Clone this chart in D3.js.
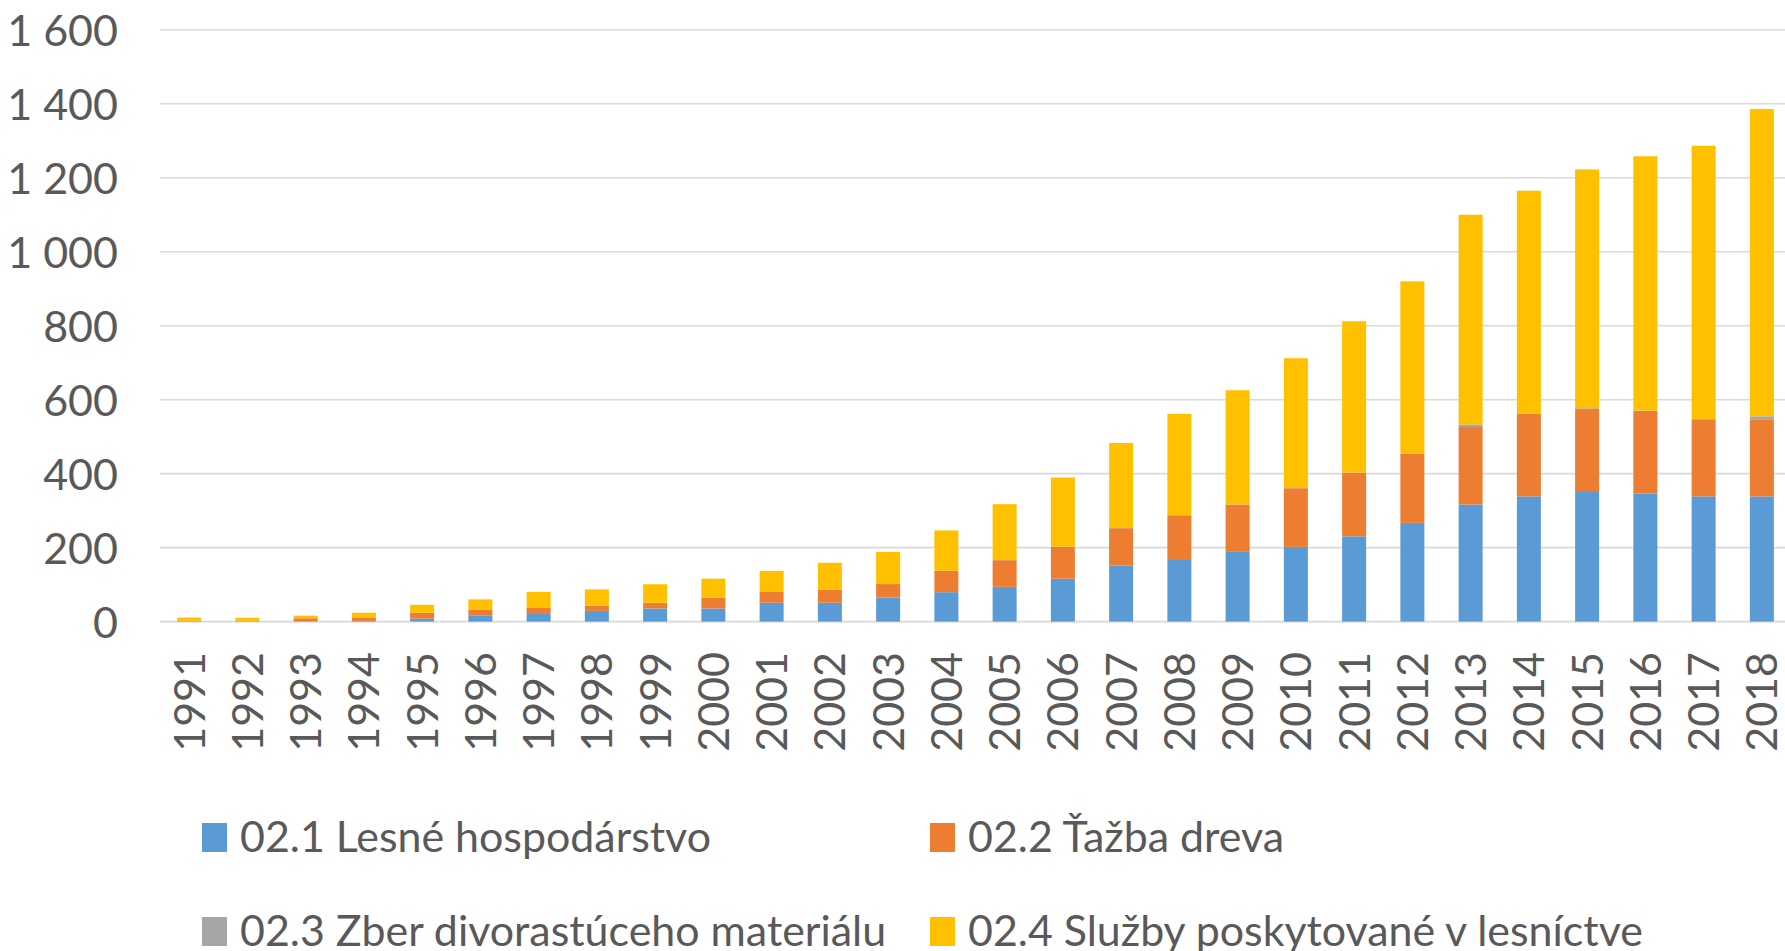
<!DOCTYPE html>
<html lang="sk">
<head>
    <meta charset="UTF-8">
    <title>Lesníctvo</title>
    <script src="https://cdn.jsdelivr.net/npm/d3@7"></script>
    <style>
        body { margin: 0; background: #fff; }
        text { font-family: Lato, "Open Sans", sans-serif; fill: #595959; }
    </style>
</head>
<body>
<div id="chart"></div>

<script>
    // roky (kategórie)
    var years = ["1991", "1992", "1993", "1994", "1995", "1996", "1997", "1998", "1999", "2000",
        "2001", "2002", "2003", "2004", "2005", "2006", "2007", "2008", "2009", "2010",
        "2011", "2012", "2013", "2014", "2015", "2016", "2017", "2018"];

    // 02.1 Lesné hospodárstvo
    var lesne = [0.5, 0.5, 1, 2, 8, 17, 23, 29, 35.5, 35.5,
        51, 51, 65, 79.5, 94, 116, 152, 166.5, 188.5, 202,
        230.5, 267, 316.5, 338.5, 353, 346.5, 338.5, 338.5];

    // 02.2 Ťažba dreva
    var tazba = [1.5, 1.5, 8, 8, 16, 14.5, 15.5, 14, 15.5, 29,
        29, 35.5, 36.5, 57.5, 72, 86, 100.5, 121, 128, 158.5,
        172, 187.5, 209.5, 223, 223, 223, 208.5, 208.5];

    // 02.3 Zber divorastúceho materiálu
    var zber = [0, 0, 0, 0, 0, 0, 0, 0, 0, 0,
        0, 0, 0, 0.5, 0.5, 0.5, 0.5, 0.5, 0.5, 0.5,
        0.5, 0.5, 6.5, 1, 1, 1, 1, 8];

    // 02.4 Služby poskytované v lesníctve
    var sluzby = [9, 8.5, 7, 14, 21.5, 28.5, 42, 44, 50, 51.5,
        57, 72.5, 87, 109, 151, 187, 230, 273.5, 308.5, 351,
        409, 465, 567.5, 602.5, 645.5, 687.5, 738.5, 831];

    var seriesNames = ["02.1 Lesné hospodárstvo", "02.2 Ťažba dreva",
        "02.3 Zber divorastúceho materiálu", "02.4 Služby poskytované v lesníctve"];
    var colors = ["#5B9BD5", "#ED7D31", "#A5A5A5", "#FFC000"];
    var yTicks = [0, 200, 400, 600, 800, 1000, 1200, 1400, 1600];

    var width = 1785, height = 951;

    // tabuľka pre d3.stack
    var keys = ["lesne", "tazba", "zber", "sluzby"];
    var table = years.map(function(y, i) {
        return {year: y, lesne: lesne[i], tazba: tazba[i], zber: zber[i], sluzby: sluzby[i]};
    });
    var stacked = d3.stack().keys(keys)(table);

    var svg = d3.select("#chart")
        .append("svg")
        .attr("width", width)
        .attr("height", height);

    var x = d3.scaleBand()
        .domain(years)
        .range([160, 1791])
        .paddingInner(0.588)
        .paddingOuter(0.294);

    var y = d3.scaleLinear()
        .domain([0, 1600])
        .range([621.6, 29.8]);

    var fmt = d3.formatLocale({decimal: ",", thousands: "\u00a0", grouping: [3], currency: ["", " €"]}).format(",d");

    // mriežka
    svg.append("g")
        .selectAll("line")
        .data(yTicks)
        .enter().append("line")
        .attr("x1", 160)
        .attr("x2", width)
        .attr("y1", function(d) { return y(d); })
        .attr("y2", function(d) { return y(d); })
        .style("stroke", "#d9d9d9")
        .style("stroke-width", 1.6);

    // os y
    var yAxis = svg.append("g")
        .attr("transform", "translate(118,0)")
        .call(d3.axisLeft(y).tickValues(yTicks).tickFormat(fmt).tickSize(0).tickPadding(0));
    yAxis.select(".domain").remove();
    yAxis.selectAll("text")
        .attr("dy", "0.36em")
        .style("font-size", "43px")
        .style("font-family", "Lato, sans-serif")
        .style("fill", "#595959");

    // stĺpce
    svg.append("g")
        .selectAll("g")
        .data(stacked)
        .enter().append("g")
        .style("fill", function(d, i) { return colors[i]; })
        .selectAll("rect")
        .data(function(d) { return d; })
        .enter().append("rect")
        .attr("x", function(d) { return x(d.data.year); })
        .attr("width", x.bandwidth())
        .attr("y", function(d) { return y(d[1]); })
        .attr("height", function(d) { return y(d[0]) - y(d[1]); });

    // os x
    var xAxis = svg.append("g")
        .attr("transform", "translate(0,652)")
        .call(d3.axisBottom(x).tickSize(0).tickPadding(0));
    xAxis.select(".domain").remove();
    xAxis.selectAll("text")
        .attr("transform", "rotate(-90)")
        .attr("x", 0)
        .attr("y", 0)
        .attr("dy", "0.36em")
        .style("text-anchor", "end")
        .style("font-size", "43px")
        .style("font-family", "Lato, sans-serif")
        .style("fill", "#595959");

    // legenda
    var legendPos = [[202, 823], [930, 823], [202, 917], [930, 917]];
    var legend = svg.append("g")
        .selectAll("g")
        .data(seriesNames)
        .enter().append("g")
        .attr("transform", function(d, i) { return "translate(" + legendPos[i][0] + "," + legendPos[i][1] + ")"; });

    legend.append("rect")
        .attr("width", 25)
        .attr("height", 29)
        .style("fill", function(d, i) { return colors[i]; });

    var legendText = legend.append("text")
        .attr("x", 38)
        .attr("y", 29)
        .style("font-size", "42px")
        .text(function(d) { return d; });

    // Calibri je užšie, tak text trochu stiahneme
    var natural = legendText.nodes()[0].getComputedTextLength();
    var squeeze = 471 / natural;
    legendText.each(function() {
        var w = this.getComputedTextLength();
        d3.select(this)
            .attr("textLength", w * squeeze)
            .attr("lengthAdjust", "spacingAndGlyphs");
    });
</script>
</body>
</html>
